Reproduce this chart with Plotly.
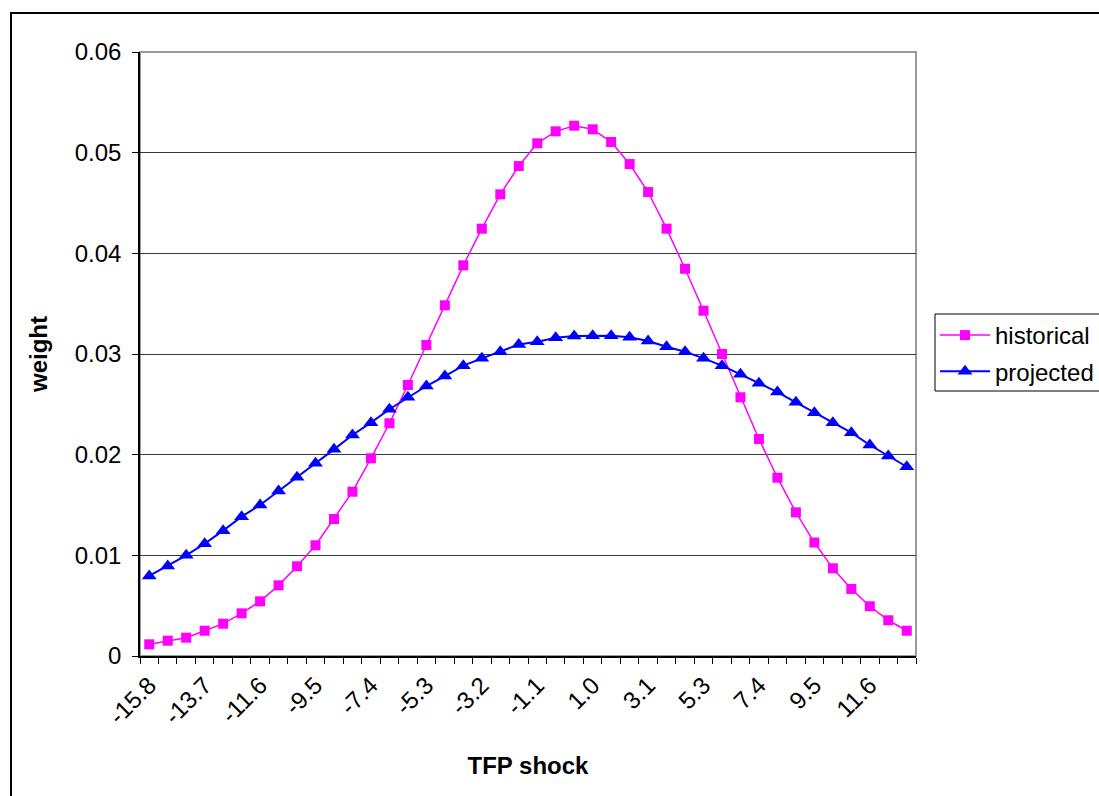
import plotly.graph_objects as go

# category labels (TFP shock values), 42 categories
shock_labels = ["-15.8", "-15.1", "-14.4", "-13.7", "-13.0", "-12.3", "-11.6", "-10.9",
                "-10.2", "-9.5", "-8.8", "-8.1", "-7.4", "-6.7", "-6.0", "-5.3",
                "-4.6", "-3.9", "-3.2", "-2.5", "-1.8", "-1.1", "-0.4", "0.3",
                "1.0", "1.7", "2.4", "3.1", "3.9", "4.6", "5.3", "6.0",
                "6.7", "7.4", "8.1", "8.8", "9.5", "10.2", "10.9", "11.6",
                "12.3", "13.0"]

historical = [0.00116, 0.00152, 0.00182, 0.00251, 0.00321, 0.00424, 0.00543, 0.00702,
              0.00891, 0.01100, 0.01361, 0.01632, 0.01964, 0.02312, 0.02692, 0.03089,
              0.03484, 0.03881, 0.04245, 0.04586, 0.04867, 0.05093, 0.05212, 0.05268,
              0.05232, 0.05106, 0.04887, 0.04609, 0.04245, 0.03847, 0.03430, 0.03000,
              0.02570, 0.02156, 0.01771, 0.01427, 0.01127, 0.00871, 0.00666, 0.00494,
              0.00355, 0.00251]

projected = [0.00795, 0.00894, 0.01000, 0.01116, 0.01245, 0.01384, 0.01500, 0.01639,
             0.01775, 0.01914, 0.02053, 0.02195, 0.02318, 0.02451, 0.02570, 0.02682,
             0.02781, 0.02884, 0.02957, 0.03023, 0.03094, 0.03122, 0.03162, 0.03179,
             0.03182, 0.03182, 0.03166, 0.03129, 0.03072, 0.03023, 0.02957, 0.02884,
             0.02798, 0.02709, 0.02622, 0.02520, 0.02417, 0.02317, 0.02218, 0.02096,
             0.01987, 0.01880]

y_ticks = [0, 0.01, 0.02, 0.03, 0.04, 0.05, 0.06]
y_tick_text = ["0", "0.01", "0.02", "0.03", "0.04", "0.05", "0.06"]

idx = list(range(len(shock_labels)))
label_idx = idx[::3]
label_text = shock_labels[::3]

FONT = "Liberation Sans, Arial, sans-serif"
FS = 24

fig = go.Figure()
fig.add_trace(go.Scatter(
    x=idx, y=historical, name="historical", mode="lines+markers",
    legendgroup="h",
    line=dict(color="#FF00FF", width=1.5),
    marker=dict(symbol="square", size=10, color="#FF00FF"),
))
fig.add_trace(go.Scatter(
    x=idx, y=projected, name="projected", mode="lines+markers",
    legendgroup="p",
    line=dict(color="#0000FF", width=2),
    marker=dict(symbol="triangle-up", size=13, color="#0000FF"),
))

# body margin removed by post_script, so figure pixels == screen pixels
W, H = 1099, 796
L, T = 140, 52
R = W - 916
B = H - 656
pw, ph = W - L - R, H - T - B


def px_x(x):
    return (x - L) / pw


def px_y(y):
    return (H - B - y) / ph


fig.update_layout(
    width=W, height=H,
    margin=dict(l=L, r=R, t=T, b=B, autoexpand=False),
    paper_bgcolor="white", plot_bgcolor="white",
    font=dict(family=FONT, size=FS, color="black"),
    showlegend=True,
    legend=dict(
        x=px_x(935), y=px_y(313), xanchor="left", yanchor="top",
        borderwidth=0, bgcolor="rgba(0,0,0,0)",
        font=dict(family=FONT, size=FS, color="black"),
        itemwidth=50, traceorder="grouped", tracegroupgap=2,
    ),
    xaxis=dict(
        range=[-0.5, len(idx) - 0.5],
        tickmode="array", tickvals=label_idx, ticktext=label_text,
        tickangle=-45, ticks="", ticklabelstandoff=4,
        showgrid=False, zeroline=False,
        showline=True, linecolor="black", linewidth=1.5,
        minor=dict(tick0=-0.5, dtick=1, ticks="outside", ticklen=6,
                   tickcolor="black", tickwidth=1, showgrid=False),
        title=dict(text="<b>TFP shock</b>", standoff=29,
                   font=dict(family=FONT, size=FS)),
        tickfont=dict(family=FONT, size=FS),
    ),
    yaxis=dict(
        range=[0, 0.06],
        tickmode="array", tickvals=y_ticks, ticktext=y_tick_text,
        ticks="outside", ticklen=6, tickcolor="black",
        showgrid=True, gridcolor="#3a3a3a", gridwidth=1,
        zeroline=False,
        showline=True, linecolor="black", linewidth=1.5,
        ticklabelstandoff=6,
        title=dict(text="<b>weight</b>", standoff=20,
                   font=dict(family=FONT, size=FS)),
        tickfont=dict(family=FONT, size=FS),
    ),
    shapes=[
        # plot area border (gray)
        dict(type="rect", xref="paper", yref="paper", x0=0, y0=0, x1=1, y1=1,
             line=dict(color="#9a9a9a", width=2), layer="below"),
        # outer chart border
        dict(type="rect", xref="paper", yref="paper",
             x0=px_x(11), y0=px_y(815), x1=px_x(1120), y1=px_y(13),
             line=dict(color="black", width=2), layer="below"),
        # legend frame (extends past the right edge like the original)
        dict(type="rect", xref="paper", yref="paper",
             x0=px_x(935), y0=px_y(391), x1=px_x(1120), y1=px_y(314),
             line=dict(color="black", width=1), fillcolor="white", layer="above"),
    ],
)

fig.write_html(
    "out.html",
    config={"displayModeBar": False},
    post_script="document.body.style.margin='0';document.body.style.overflow='hidden';",
)
